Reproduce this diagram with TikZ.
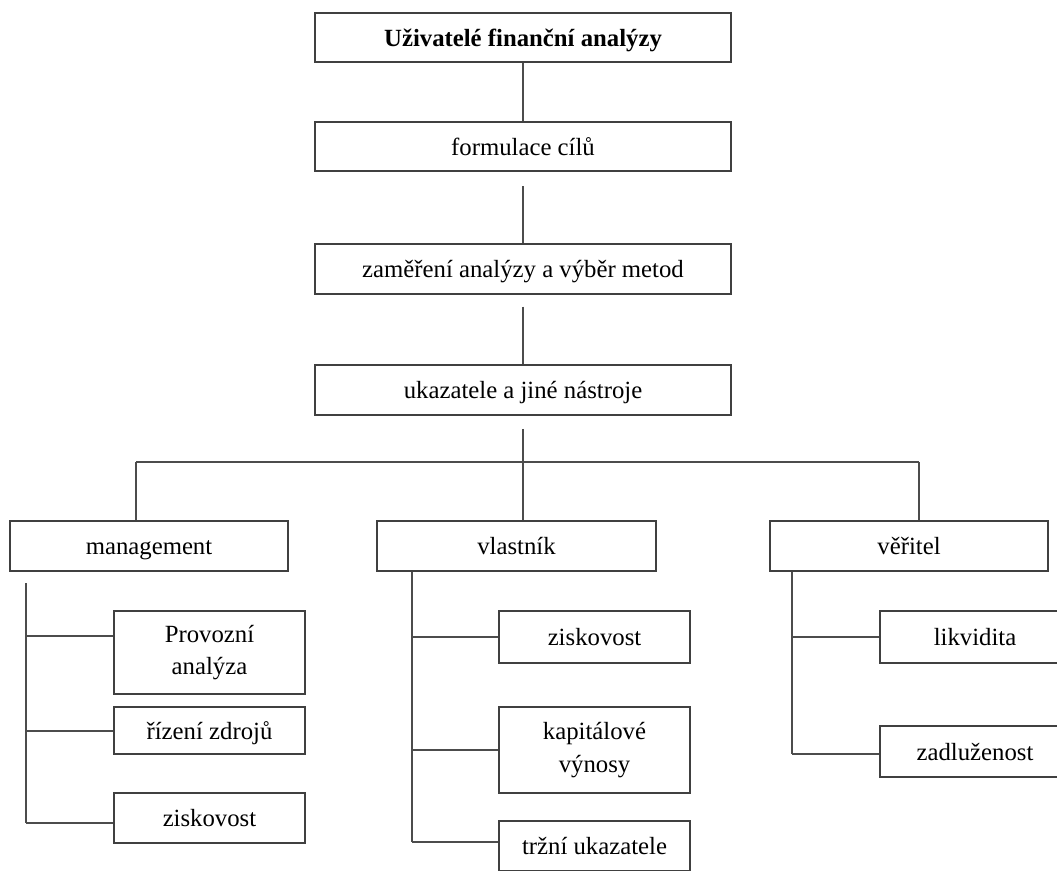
\documentclass[tikz,border=0pt]{standalone}
\usepackage{fontspec}
\setmainfont{Liberation Serif}
\usepackage{tikz}

\begin{document}
\begin{tikzpicture}[x=0.025cm, y=-0.025cm,
		box/.style={draw=black!75, line width=1.4pt, rectangle, align=center, inner sep=0pt,
			font=\fontsize{17.6}{23}\selectfont},
		one/.style={text height=16pt, text depth=3.5pt},
		wide/.style={box, one, minimum width=10.4cm, minimum height=1.23cm},
		group/.style={box, one, minimum width=6.95cm, minimum height=1.25cm},
		leaf/.style={box, minimum width=4.75cm},
		link/.style={draw=black!70, line width=1.4pt}]
			\useasboundingbox (0,0) rectangle (1057,870);
			\clip (0,0) rectangle (1057,870);
			
			% Define nodes
			\node[wide, font=\fontsize{17.6}{23}\selectfont\bfseries] (users) at (523,37.5) {Uživatelé finanční analýzy}; % Top node
			\node[wide] (goals) at (523,146.5) {formulace cílů};
			\node[wide] (focus) at (523,269) {zaměření analýzy a výběr metod};
			\node[wide] (tools) at (523,390) {ukazatele a jiné nástroje};
			
			\node[group] (mgmt) at (149,546) {management};          % Left group
			\node[group] (owner) at (516.5,546) {vlastník};         % Middle group
			\node[group] (creditor) at (909,546) {věřitel};         % Right group
			
			\node[leaf, minimum height=2.08cm] (mgmtA) at (209.5,652.5) {Provozní\\analýza};
			\node[leaf, one, minimum height=1.18cm] (mgmtB) at (209.5,730.5) {řízení zdrojů};
			\node[leaf, one, minimum height=1.25cm] (mgmtC) at (209.5,818) {ziskovost};
			\node[leaf, one, minimum height=1.3cm] (ownerA) at (594.5,637) {ziskovost};
			\node[leaf, minimum height=2.15cm] (ownerB) at (594.5,750) {kapitálové\\výnosy};
			\node[leaf, one, minimum height=1.25cm] (ownerC) at (594.5,846) {tržní ukazatele};
			\node[leaf, one, minimum height=1.3cm] (credA) at (975,637) {likvidita};
			\node[leaf, one, minimum height=1.28cm] (credB) at (975,751.5) {zadluženost};
			
			% Branch points
			\coordinate (split) at (523,462);
			\coordinate (splitL) at (136,462);
			\coordinate (splitR) at (919,462);
			\coordinate (mgmtTop) at (26,583);
			\coordinate (mgmtEnd) at (26,823);
			\coordinate (ownerEnd) at (412,842);
			\coordinate (credEnd) at (792,754);
			
			% Main chain
			\draw[link] (users) -- (goals);
			\draw[link, shorten <=0.35cm] (goals) -- (focus);
			\draw[link, shorten <=0.3cm] (focus) -- (tools);
			\draw[link, shorten <=0.33cm] (tools) -- (split);
			\draw[link] (splitL) -- (splitR);
			\draw[link] (splitL) -- (splitL |- mgmt.north);
			\draw[link] (split) -- (split |- owner.north);
			\draw[link] (splitR) -- (splitR |- creditor.north);
			
			% Left column
			\draw[link] (mgmtTop) -- (mgmtEnd);
			\draw[link] (mgmtTop |- mgmtA.170) -- (mgmtA.170);
			\draw[link] (mgmtTop |- mgmtB.west) -- (mgmtB.west);
			\draw[link] (mgmtEnd) -- (mgmtEnd -| mgmtC.west);
			
			% Middle column
			\draw[link] (owner.south -| ownerEnd) -- (ownerEnd);
			\draw[link] (ownerEnd |- ownerA.west) -- (ownerA.west);
			\draw[link] (ownerEnd |- ownerB.west) -- (ownerB.west);
			\draw[link] (ownerEnd) -- (ownerEnd -| ownerC.west);
			
			% Right column
			\draw[link] (creditor.south -| credEnd) -- (credEnd);
			\draw[link] (credEnd |- credA.west) -- (credA.west);
			\draw[link] (credEnd) -- (credEnd -| credB.west);
		\end{tikzpicture}
\end{document}
